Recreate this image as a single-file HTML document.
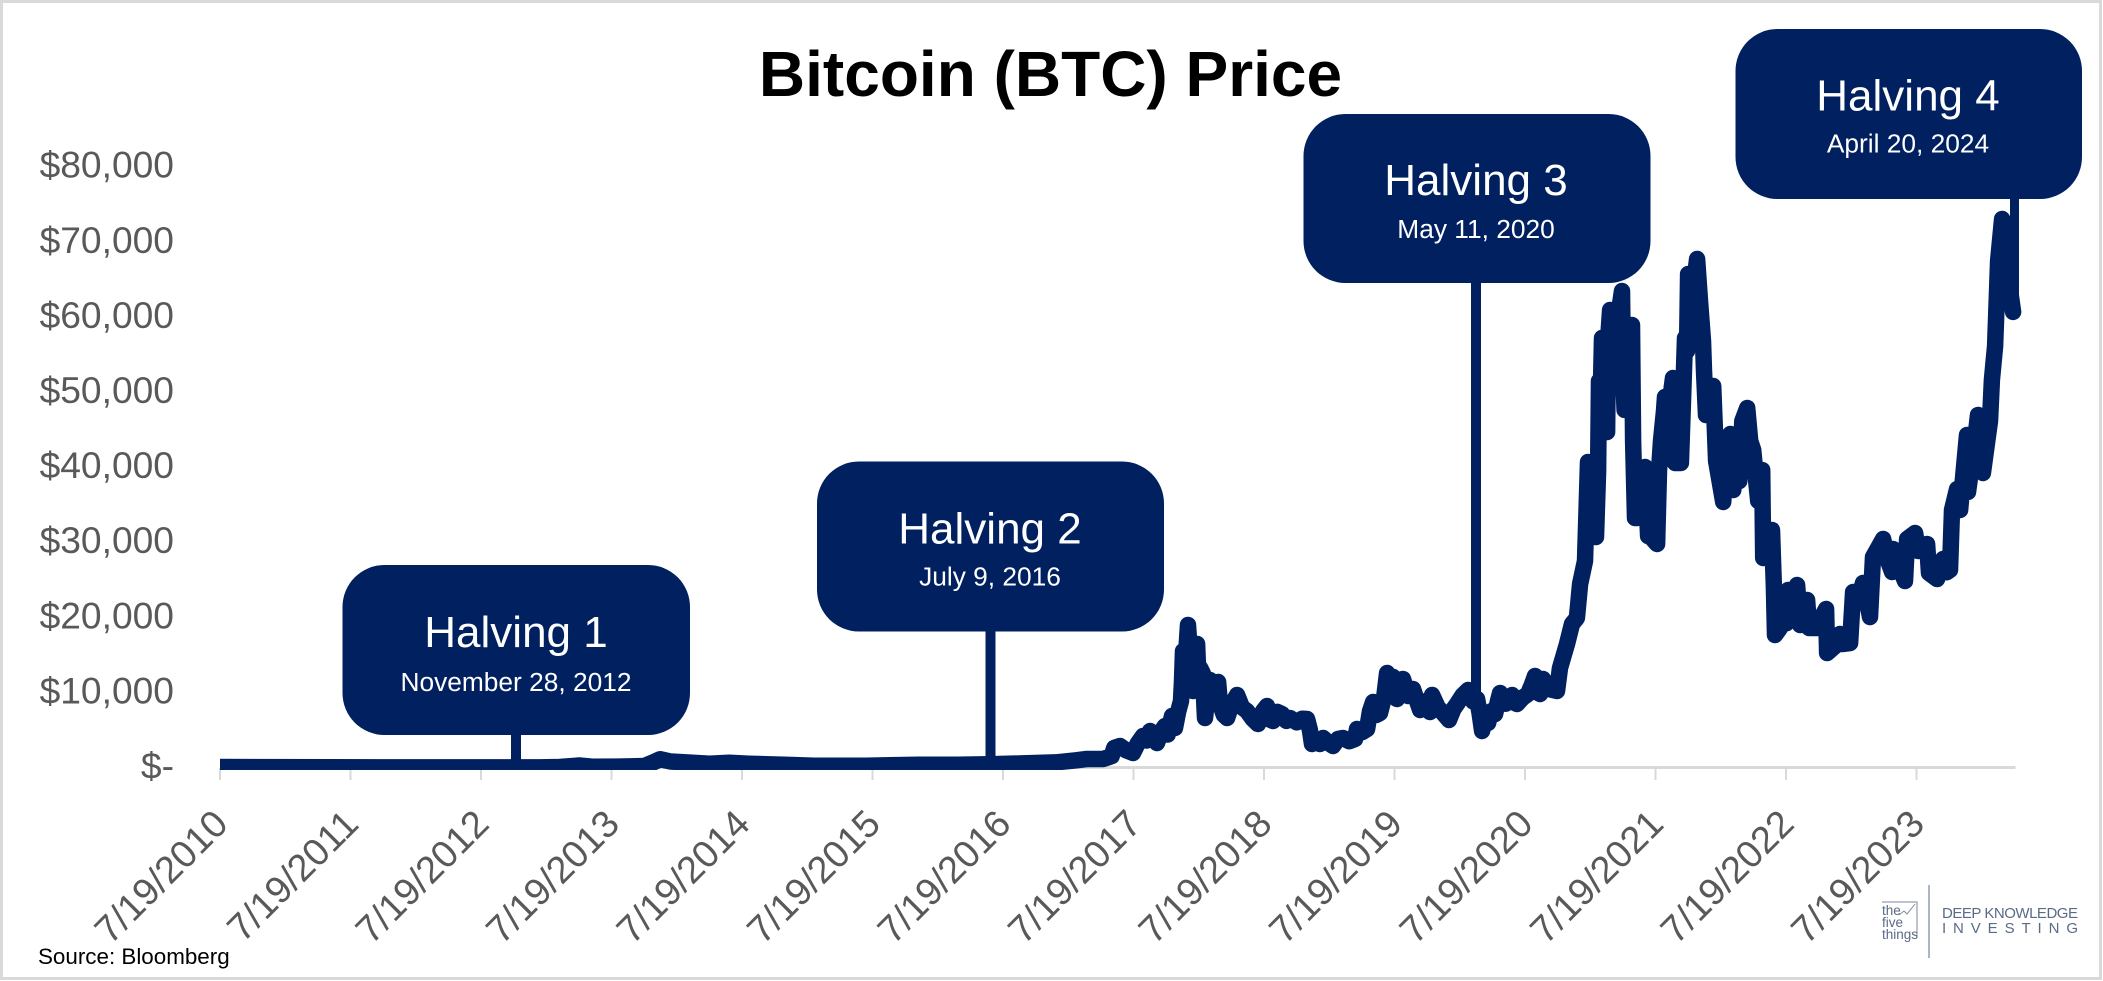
<!DOCTYPE html>
<html lang="en">
<head>
<meta charset="utf-8">
<title>Bitcoin (BTC) Price</title>
<style>
html,body{margin:0;padding:0;background:#fff;}
#page{position:relative;width:2103px;height:981px;overflow:hidden;background:#fff;}
svg{display:block;font-family:"Liberation Sans",Arial,sans-serif;}
</style>
</head>
<body>
<div id="page">
<svg id="chart" width="2103" height="981" viewBox="0 0 2103 981" xmlns="http://www.w3.org/2000/svg">
  <defs>
    <clipPath id="plot-clip"><rect x="220" y="0" width="1830" height="770"/></clipPath>
  </defs>
  <rect x="1.5" y="1.5" width="2099" height="977" fill="#fff" stroke="#d9d9d9" stroke-width="3"/>
  <text x="1050.5" y="96" font-size="64" font-weight="700" text-anchor="middle" fill="#000">Bitcoin (BTC) Price</text>

  <g id="axes"></g>

  <g>
    <rect x="511" y="730" width="10" height="32" fill="#002060"/>
    <rect x="342.5" y="565" width="347.5" height="170" rx="42" ry="42" fill="#002060"/>
    <text x="516" y="647" font-size="44" text-anchor="middle" fill="#fff">Halving 1</text>
    <text x="516" y="691" font-size="26.3" text-anchor="middle" fill="#fff">November 28, 2012</text>
  </g>
  <g>
    <rect x="985.5" y="625" width="10" height="137" fill="#002060"/>
    <rect x="817" y="461.5" width="347" height="170" rx="42" ry="42" fill="#002060"/>
    <text x="990" y="543.5" font-size="44" text-anchor="middle" fill="#fff">Halving 2</text>
    <text x="990" y="585.5" font-size="26.3" text-anchor="middle" fill="#fff">July 9, 2016</text>
  </g>
  <g>
    <rect x="1471" y="275" width="10" height="430" fill="#002060"/>
    <rect x="1303.5" y="114" width="347" height="169" rx="42" ry="42" fill="#002060"/>
    <text x="1476" y="195" font-size="44" text-anchor="middle" fill="#fff">Halving 3</text>
    <text x="1476" y="238" font-size="26.3" text-anchor="middle" fill="#fff">May 11, 2020</text>
  </g>
  <g>
    <rect x="2010" y="190" width="9" height="125" fill="#002060"/>
    <rect x="1735.5" y="29" width="346.5" height="170" rx="42" ry="42" fill="#002060"/>
    <text x="1908" y="110.5" font-size="44" text-anchor="middle" fill="#fff">Halving 4</text>
    <text x="1908" y="152.5" font-size="26.3" text-anchor="middle" fill="#fff">April 20, 2024</text>
  </g>

  <g id="series" clip-path="url(#plot-clip)"></g>

  <text x="38" y="964" font-size="22.4" fill="#000">Source: Bloomberg</text>

  <g fill="#5a6b85">
    <path d="M1882 902H1917V938" fill="none" stroke="#7b8aa0" stroke-width="1"/>
    <path d="M1899 915l5-4 3 3 8-10" fill="none" stroke="#7b8aa0" stroke-width="1"/>
    <text x="1882" y="915" font-size="13.5">the</text>
    <text x="1882" y="927" font-size="13.5">five</text>
    <text x="1882" y="939" font-size="13.5">things</text>
    <rect x="1928.5" y="885" width="1" height="73"/>
    <text x="1942" y="918" font-size="15" textLength="136" lengthAdjust="spacing">DEEP KNOWLEDGE</text>
    <text x="1942" y="933" font-size="15" textLength="136" lengthAdjust="spacing">INVESTING</text>
  </g>
</svg>
</div>
<script>
var yTicks = [0, 10000, 20000, 30000, 40000, 50000, 60000, 70000, 80000];
var yTickLabels = ["$-", "$10,000", "$20,000", "$30,000", "$40,000", "$50,000", "$60,000", "$70,000", "$80,000"];
var xTicks = [2010.548, 2011.548, 2012.548, 2013.548, 2014.548, 2015.548, 2016.548, 2017.548, 2018.548, 2019.548, 2020.548, 2021.548, 2022.548, 2023.548];
var xTickLabels = ["7/19/2010", "7/19/2011", "7/19/2012", "7/19/2013", "7/19/2014", "7/19/2015", "7/19/2016", "7/19/2017", "7/19/2018", "7/19/2019", "7/19/2020", "7/19/2021", "7/19/2022", "7/19/2023"];

var dates = [2010.548,2011.4,2012.5,2013.0,2013.15,2013.27,2013.3,2013.4,2013.6,2013.8,2013.87,2013.92,2014.0,2014.1,2014.3,2014.45,2014.6,2014.9,2015.1,2015.5,2015.9,2016.2,2016.45,2016.7,2016.95,2017.1,2017.19,
2017.314,2017.38,2017.4,2017.445,2017.49,2017.544,2017.58,2017.621,2017.65,2017.675,2017.7,2017.728,2017.76,2017.789,2017.81,2017.843,2017.866,2017.89,2017.912,2017.92,2017.927,2017.945,2017.966,2017.985,2018.004,2018.035,2018.048,2018.058,2018.08,2018.096,2018.119,2018.134,2018.16,2018.18,2018.196,2018.211,2018.24,2018.265,2018.3,2018.342,2018.38,2018.418,2018.46,2018.502,2018.54,2018.571,2018.59,2018.617,2018.65,2018.686,2018.72,2018.747,2018.8,2018.84,2018.878,2018.9,2018.916,2018.95,2018.977,2019.001,2019.04,2019.077,2019.115,2019.154,2019.2,2019.246,2019.261,2019.3,2019.338,2019.36,2019.384,2019.41,2019.437,2019.47,2019.491,2019.515,2019.537,2019.567,2019.59,2019.613,2019.652,2019.69,2019.72,2019.744,2019.78,2019.82,2019.836,2019.88,2019.92,2019.966,2020.0,2020.027,2020.07,2020.112,2020.15,2020.181,2020.2,2020.219,2020.24,2020.265,2020.29,2020.319,2020.34,2020.357,2020.4,2020.449,2020.47,2020.487,2020.53,2020.571,2020.6,2020.625,2020.663,2020.686,2020.74,2020.793,2020.816,2020.87,2020.908,2020.946,2020.97,
2021.008,2021.031,2021.046,2021.092,2021.108,2021.115,2021.123,2021.138,2021.154,2021.177,2021.184,2021.2,2021.246,2021.291,2021.299,2021.311,2021.33,2021.338,2021.368,2021.376,2021.391,2021.407,2021.43,2021.468,2021.491,2021.506,2021.56,2021.575,2021.59,2021.613,2021.621,2021.644,2021.659,2021.682,2021.698,2021.743,2021.759,2021.774,2021.789,2021.798,2021.828,2021.867,2021.889,2021.912,2021.92,2021.935,2021.951,2021.99,2022.012,2022.067,2022.098,2022.121,2022.144,2022.175,2022.19,2022.213,2022.251,2022.274,2022.297,2022.32,2022.335,2022.366,2022.373,2022.41,2022.441,2022.455,2022.464,2022.5,2022.52,2022.533,2022.55,2022.564,2022.6,2022.633,2022.656,2022.68,2022.71,2022.725,2022.786,2022.82,2022.855,2022.863,2022.924,2022.962,2022.977,2023.039,2023.062,2023.1,2023.138,2023.165,2023.192,2023.215,2023.292,2023.33,2023.361,2023.369,2023.42,2023.46,2023.476,2023.537,2023.56,2023.629,2023.644,2023.706,2023.752,2023.78,2023.805,2023.82,2023.859,2023.882,2023.935,2023.943,2024.0,2024.019,2024.057,2024.111,2024.126,2024.15,2024.173,2024.204,2024.234,2024.288];

var prices = [60,30,8,15,60,230,260,110,120,200,700,1100,800,700,500,620,500,350,230,240,360,360,420,550,680,950,1130,
1130,1500,2600,2860,2300,1930,3200,4190,3600,4860,4000,3260,4800,5530,4400,6860,5260,7400,8860,11500,15500,13500,18980,14000,10190,16450,10500,13250,12500,6590,10190,11650,9800,8860,11390,8460,7000,6590,8400,9650,8000,7520,6500,5790,7500,8190,6400,6190,7400,7120,6200,6590,6000,6500,6460,5000,3130,3800,3130,3930,3300,2860,3800,3930,3500,3800,5130,4700,5130,7500,8720,7000,7260,9500,12580,10200,12050,9120,10000,11790,9520,10450,8900,7660,8800,7390,9650,8000,7260,6330,7800,8460,9600,10320,8800,9120,7200,4860,6500,5930,7500,7120,8800,9920,8500,9650,8600,8460,9300,9790,11000,12180,9790,11790,10400,10190,13250,16450,19110,19910,24430,
27500,40680,30960,30690,39480,51470,44810,57190,44670,44670,56790,60920,58120,63450,52800,47610,47610,55460,58920,43480,33220,33220,38150,40010,30830,30830,29760,39480,43480,47470,49330,43480,48800,51860,40550,40550,48800,57190,55460,65710,62120,67710,62120,56790,52800,46940,46940,50800,40810,35350,43480,44410,36950,43880,38150,46140,47870,43480,42280,38150,35490,39610,27900,30000,31620,24000,17640,18500,21500,20840,19200,23630,20500,24300,18970,19500,22300,18570,18570,20000,21100,15250,16180,17780,16450,16580,23370,22170,24570,22500,20040,28030,30430,27500,26030,29100,26500,24830,30430,31230,28830,29760,25900,25100,27760,26000,26300,34290,37090,34290,44280,36690,44000,46940,39220,46140,51600,56120,67450,73040,67450,60660];

var SVGNS = "http://www.w3.org/2000/svg";
function xScale(d) { return 220 + (d - 2010.548) * 130.5; }
function yScale(v) { return 766.5 - v / 10000 * 75.1; }

var axes = document.getElementById("axes");
var seriesGroup = document.getElementById("series");

var axisLine = document.createElementNS(SVGNS, "line");


axisLine.setAttribute("x1", xScale(xTicks[0]));
axisLine.setAttribute("x2", 2015.5);
axisLine.setAttribute("y1", 767.5);
axisLine.setAttribute("y2", 767.5);
axisLine.setAttribute("stroke", "#d9d9d9");
axisLine.setAttribute("stroke-width", 3);
axes.appendChild(axisLine);

xTicks.forEach(function (d, i) {
  var px = xScale(d);
  var tick = document.createElementNS(SVGNS, "line");
  
  
  tick.setAttribute("x1", px);
  tick.setAttribute("x2", px);
  tick.setAttribute("y1", 768);
  tick.setAttribute("y2", 780);
  tick.setAttribute("stroke", "#d9d9d9");
  tick.setAttribute("stroke-width", 2);
  axes.appendChild(tick);

  var label = document.createElementNS(SVGNS, "text");
  
  
  label.setAttribute("font-size", 38);
  label.setAttribute("fill", "#595959");
  label.setAttribute("text-anchor", "end");
  label.setAttribute("transform", "translate(" + (px + 10) + " 826) rotate(-45)");
  label.textContent = xTickLabels[i];
  axes.appendChild(label);
});

yTicks.forEach(function (v, i) {
  var label = document.createElementNS(SVGNS, "text");
  
  
  label.setAttribute("x", 174);
  label.setAttribute("y", yScale(v) + 12);
  label.setAttribute("font-size", 37.2);
  label.setAttribute("fill", "#595959");
  label.setAttribute("text-anchor", "end");
  label.textContent = yTickLabels[i];
  axes.appendChild(label);
});

var pathData = dates.map(function (d, i) {
  return (i ? "L" : "M") + xScale(d).toFixed(1) + " " + (yScale(prices[i]) + 1).toFixed(1);
}).join("");
var line = document.createElementNS(SVGNS, "path");


line.setAttribute("d", pathData);
line.setAttribute("fill", "none");
line.setAttribute("stroke", "#002060");
line.setAttribute("stroke-width", 16.5);
line.setAttribute("stroke-linejoin", "round");
line.setAttribute("stroke-linecap", "round");
seriesGroup.appendChild(line);
</script>
</body>
</html>
